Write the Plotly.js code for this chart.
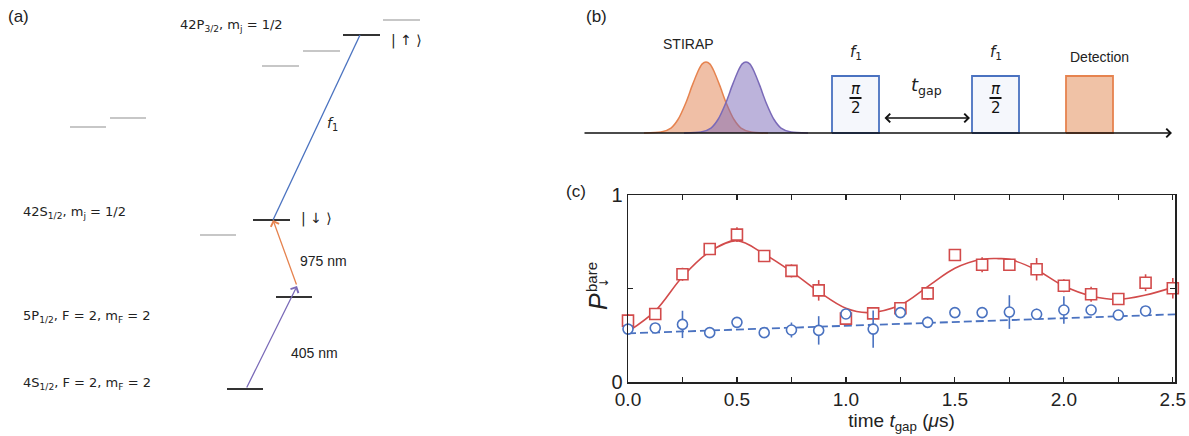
<!DOCTYPE html>
<html>
<head>
<meta charset="utf-8">
<script src="https://cdn.plot.ly/plotly-3.0.1.min.js"></script>
<style>html,body{margin:0;padding:0;background:#fff;} #chart{width:1189px;height:436px;}</style>
</head>
<body>
<div id="chart"></div>
<script>
// ---------- panel (c) data ----------
const tRed = [0,0.125,0.25,0.375,0.5,0.625,0.75,0.875,1.0,1.125,1.25,1.375,1.5,1.625,1.75,1.875,2.0,2.125,2.25,2.375,2.5];
const pRed = [0.328,0.364,0.576,0.711,0.788,0.674,0.594,0.49,0.339,0.367,0.394,0.474,0.679,0.627,0.627,0.603,0.515,0.469,0.444,0.531,0.501];
const errRed = [0.035,0.02,0.035,0.02,0.04,0.03,0.035,0.055,0.035,0.02,0.02,0.035,0.02,0.04,0.02,0.06,0.035,0.04,0.02,0.045,0.055];

const tBlue = [0,0.125,0.25,0.375,0.5,0.625,0.75,0.875,1.0,1.125,1.25,1.375,1.5,1.625,1.75,1.875,2.0,2.125,2.25,2.375];
const pBlue = [0.283,0.289,0.308,0.264,0.319,0.264,0.278,0.276,0.364,0.283,0.371,0.319,0.371,0.371,0.374,0.362,0.385,0.385,0.358,0.38];
const errBlue = [0.02,0.02,0.073,0.02,0.02,0.01,0.04,0.076,0.01,0.1,0.01,0.03,0.01,0.01,0.09,0.03,0.073,0.01,0.02,0.01];

const tFit = [0,0.125,0.25,0.375,0.5,0.625,0.75,0.875,1.0,1.1,1.25,1.375,1.5,1.625,1.7,1.75,1.875,2.0,2.125,2.25,2.375,2.5];
const pFit = [0.269,0.38,0.563,0.697,0.756,0.684,0.59,0.483,0.394,0.371,0.412,0.51,0.608,0.656,0.66,0.656,0.599,0.513,0.46,0.442,0.465,0.506];

const tLin = [0, 2.51];
const pLin = [0.26, 0.362];

const xTickVals = [0,0.5,1.0,1.5,2.0,2.5];
const xTickText = ['0.0','0.5','1.0','1.5','2.0','2.5'];
const yTickVals = [0,0.5,1];
const yTickText = ['0','','1'];

// ---------- panel (a) diagram (diagram units) ----------
const stateLevelX0 = [343,253,276,227];
const stateLevelX1 = [380,290,312,263];
const stateLevelY  = [35,220,297,389];
const otherLevelX0 = [383,303,262,70,110,200];
const otherLevelX1 = [420,340,299,106,146,236];
const otherLevelY  = [20,51,66,127,118,235];

const levelLabels = ['42P<sub>3/2</sub>, m<sub>j</sub> = 1/2','42S<sub>1/2</sub>, m<sub>j</sub> = 1/2','5P<sub>1/2</sub>, F = 2, m<sub>F</sub> = 2','4S<sub>1/2</sub>, F = 2, m<sub>F</sub> = 2'];
const levelLabelX = [178,21,21,21];
const levelLabelY = [25,212,316,383];

// transitions: [tailX, tailY, headX, headY]
const trans405 = [246,389,297,286];
const trans975 = [297,286,273,220];
const transF1  = [273,220,360,35];

// ---------- panel (b) diagram ----------
const baselineY = 133;
const timeAxisX = [583,1172];
const pulseOffset = [-62,-45,-35,-28,-20,-14,-8,-4,0,4,8,14,20,28,35,45,62];
const pulseShape  = [0,0.013,0.07,0.19,0.43,0.66,0.87,0.97,1,0.97,0.87,0.66,0.43,0.19,0.07,0.013,0];
const pulseCenters = [706,746];
const pulseHeight = 71;
const boxX0 = [832,972,1066];
const boxX1 = [879,1019,1113];
const boxTop = 76;
const gapArrowX = [883,970];
const gapArrowY = 118;

const cBlue = '#4a72c0', cRed = '#d24b4b', cOrange = '#e6834f', cViolet = '#7a6ab8';

const traces = [];
function segs(x0s,x1s,ys){const x=[],y=[];for(let i=0;i<ys.length;i++){x.push(x0s[i],x1s[i],null);y.push(ys[i],ys[i],null);}return {x,y};}
const sl = segs(stateLevelX0,stateLevelX1,stateLevelY);
const ol = segs(otherLevelX0,otherLevelX1,otherLevelY);
traces.push({x:ol.x,y:ol.y,xaxis:'x2',yaxis:'y2',mode:'lines',line:{color:'#b4b4b4',width:1.5},hoverinfo:'skip',showlegend:false});
traces.push({x:sl.x,y:sl.y,xaxis:'x2',yaxis:'y2',mode:'lines',line:{color:'#333',width:1.8},hoverinfo:'skip',showlegend:false});
traces.push({x:[transF1[0],transF1[2]],y:[transF1[1],transF1[3]],xaxis:'x2',yaxis:'y2',mode:'lines',line:{color:cBlue,width:1.3},hoverinfo:'skip',showlegend:false});

const pulseColors = [['rgba(226,128,78,0.5)',cOrange],['rgba(122,104,184,0.5)',cViolet]];
pulseCenters.forEach((c,k)=>{
  traces.push({x:pulseOffset.map(o=>c+o),y:pulseShape.map(s=>baselineY-pulseHeight*s),xaxis:'x2',yaxis:'y2',mode:'lines',
    line:{color:pulseColors[k][1],width:1.5,shape:'spline',smoothing:0.6},fill:'toself',fillcolor:pulseColors[k][0],hoverinfo:'skip',showlegend:false});
});
const boxFill = ['#f5f7fc','#f5f7fc','#f0c2a6'];
const boxLine = [cBlue,cBlue,cOrange];
boxX0.forEach((x0,i)=>{
  const x1 = boxX1[i];
  traces.push({x:[x0,x0,x1,x1,x0],y:[baselineY,boxTop,boxTop,baselineY,baselineY],xaxis:'x2',yaxis:'y2',mode:'lines',
    line:{color:boxLine[i],width:1.8},fill:'toself',fillcolor:boxFill[i],hoverinfo:'skip',showlegend:false});
});
const fracX=[],fracY=[];
[0,1].forEach(i=>{const c=(boxX0[i]+boxX1[i])/2;fracX.push(c-6,c+6,null);fracY.push(98,98,null);});
traces.push({x:fracX,y:fracY,xaxis:'x2',yaxis:'y2',mode:'lines',line:{color:'#111',width:2},hoverinfo:'skip',showlegend:false});

// panel (c)
traces.push({x:tLin,y:pLin,mode:'lines',line:{color:cBlue,width:1.8,dash:'8px,4px'},hoverinfo:'skip',showlegend:false});
traces.push({x:tFit,y:pFit,mode:'lines',line:{color:cRed,width:1.6,shape:'spline',smoothing:1},hoverinfo:'skip',showlegend:false});
traces.push({x:tRed,y:pRed,mode:'markers',cliponaxis:false,marker:{symbol:'square',size:11,color:'#fff',line:{width:1.6,color:cRed}},
  error_y:{type:'data',array:errRed,visible:true,color:cRed,thickness:1.6,width:0},showlegend:false});
traces.push({x:tBlue,y:pBlue,mode:'markers',cliponaxis:false,marker:{symbol:'circle',size:10,color:'#fff',line:{width:1.6,color:cBlue}},
  error_y:{type:'data',array:errBlue,visible:true,color:cBlue,thickness:1.6,width:0},showlegend:false});

const W=1189,H=436;
const fA = {family:'DejaVu Sans',size:13,color:'#222'};
const fS = {family:'Liberation Sans, Arial, sans-serif',size:14,color:'#222'};
const ann = [];
function txt(text,x,y,font,xa,ang){ann.push({text,x,y,xref:'x2',yref:'y2',showarrow:false,font,xanchor:xa||'left',yanchor:'middle',textangle:ang||0});}
levelLabels.forEach((t,i)=>txt(t,levelLabelX[i],levelLabelY[i],fA));
txt('| ↑ ⟩',389,40,{family:'DejaVu Sans',size:14,color:'#222'});
txt('| ↓ ⟩',299,218,{family:'DejaVu Sans',size:14,color:'#222'});
txt('<i>f</i><sub>1</sub>',325,124,{family:'DejaVu Sans',size:14,color:'#222'});
txt('975 nm',298,261,fS);
txt('405 nm',289,353,fS);
txt('(a)',6,16,{family:'Liberation Sans, Arial',size:17,color:'#222'});
txt('(b)',584,16,{family:'Liberation Sans, Arial',size:17,color:'#222'});
txt('(c)',564,191,{family:'Liberation Sans, Arial',size:17,color:'#222'});
txt('STIRAP',688,44,fS,'center');
txt('<i>f</i><sub>1</sub>',(boxX0[0]+boxX1[0])/2,52,{family:'DejaVu Sans',size:15,color:'#222'},'center');
txt('<i>f</i><sub>1</sub>',(boxX0[1]+boxX1[1])/2,52,{family:'DejaVu Sans',size:15,color:'#222'},'center');
txt('Detection',1099,57,fS,'center');
txt('<i>t</i><sub>gap</sub>',926,86,{family:'DejaVu Sans',size:18,color:'#222'},'center');
[0,1].forEach(i=>{const c=(boxX0[i]+boxX1[i])/2;txt('<i>π</i>',c,89,{family:'DejaVu Sans',size:15,color:'#111'},'center');txt('2',c,108,{family:'DejaVu Sans',size:15,color:'#111'},'center');});
// y-axis title of (c): P with stacked superscript/subscript
txt('<i>P</i>',598,302,{family:'Liberation Sans, Arial',size:25,color:'#222'},'center',-90);
txt('bare',591,277,{family:'Liberation Sans, Arial',size:15,color:'#222'},'center',-90);
txt('↓',604,283,{family:'DejaVu Sans',size:12,color:'#222'},'center',-90);

function arrow(t,color,head,side){ann.push({x:t[2],y:t[3],ax:t[0],ay:t[1],xref:'x2',yref:'y2',axref:'x2',ayref:'y2',text:'',showarrow:true,
  arrowhead:head,startarrowhead:head,arrowside:side||'end',arrowsize:1.3,startarrowsize:1.3,arrowwidth:1.3,arrowcolor:color,standoff:0,startstandoff:0});}
arrow(trans405,cViolet,4);
arrow(trans975,cOrange,4);
arrow([timeAxisX[0],baselineY,timeAxisX[1],baselineY],'#111',4);
arrow([gapArrowX[0],gapArrowY,gapArrowX[1],gapArrowY],'#111',4,'end+start');

const layout = {
  width:W,height:H,margin:{l:0,r:0,t:0,b:0},
  paper_bgcolor:'#fff',plot_bgcolor:'rgba(0,0,0,0)',
  font:{family:'Liberation Sans, Arial, sans-serif',color:'#222'},
  xaxis:{domain:[628/W,1175/W],range:[0,2.51],tickvals:xTickVals,ticktext:xTickText,ticks:'inside',ticklen:5,tickwidth:1.2,tickcolor:'#222',
    minor:{tickvals:[0.25,0.75,1.25,1.75,2.25],ticks:'inside',ticklen:5,tickwidth:1.2,tickcolor:'#222'},
    showline:true,linecolor:'#222',linewidth:1.5,mirror:'ticks',showgrid:false,zeroline:false,
    tickfont:{size:19,color:'#222'},title:{text:'time <i>t</i><sub>gap</sub> (<i>μ</i>s)',font:{size:19,color:'#222'},standoff:2}},
  yaxis:{domain:[(H-382)/H,(H-195)/H],range:[0,1],tickvals:yTickVals,ticktext:yTickText,ticks:'inside',ticklen:5,tickwidth:1.2,tickcolor:'#222',
    showline:true,linecolor:'#222',linewidth:1.5,mirror:'ticks',showgrid:false,zeroline:false,
    tickfont:{size:20,color:'#222'}},
  xaxis2:{domain:[0,1],range:[0,W],visible:false,anchor:'y2',fixedrange:true},
  yaxis2:{domain:[0,1],range:[H,0],visible:false,anchor:'x2',fixedrange:true},
  annotations:ann
};
Plotly.newPlot('chart',traces,layout,{staticPlot:true});
</script>
</body>
</html>
